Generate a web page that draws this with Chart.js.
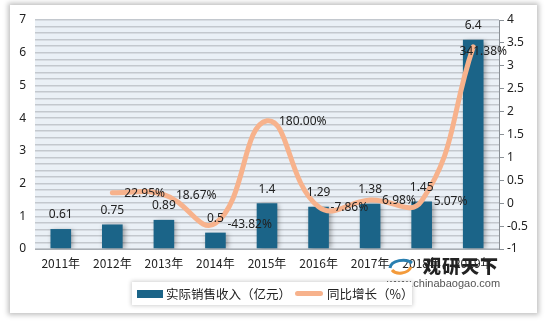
<!DOCTYPE html>
<html><head><meta charset="utf-8">
<script src="https://cdn.jsdelivr.net/npm/chart.js@4/dist/chart.umd.min.js"></script>
<style>
html,body{margin:0;padding:0;background:#fff;}
#wrap{position:relative;width:549px;height:322px;overflow:hidden;font-family:"Noto Sans CJK SC","Noto Sans",sans-serif;}
#frame{position:absolute;left:10px;top:5px;width:527px;height:308px;box-shadow:0 0 5px 2px rgba(0,0,0,0.25);background:#fff;}
canvas{position:absolute;left:0;top:0;}
#legend{position:absolute;left:132px;top:282px;width:280px;height:23px;background:#fff;box-shadow:0 0 4px 1px rgba(0,0,0,0.18);font-size:12.5px;color:#222;}
#legend .it{position:absolute;top:3px;line-height:17px;white-space:nowrap;}
#legend .sw{position:absolute;}
#wm1{position:absolute;left:423px;top:253px;font-size:18px;font-weight:900;color:#222;letter-spacing:1px;white-space:nowrap;line-height:24px;}
#wm2{position:absolute;left:387px;top:277px;font-size:11px;color:#555;font-family:"Liberation Sans",sans-serif;white-space:nowrap;}
#logo{position:absolute;left:388px;top:257px;width:26px;height:18px;}
</style></head>
<body><div id="wrap">
<div id="frame"></div>
<canvas id="c" width="549" height="322"></canvas>
<svg id="logo" viewBox="0 0 26 18"><path d="M2 11 C3 3,18 1,24 6" stroke="#2a7fb0" stroke-width="3" fill="none"/><path d="M4 13 C8 18,20 17,23 10" stroke="#f39a3a" stroke-width="3" fill="none"/></svg>
<div id="wm1">观研天下</div>
<div id="wm2">www.chinabaogao.com</div>
<div id="legend">
 <div class="sw" style="left:5px;top:8px;width:26px;height:8px;background:#1B6488;"></div>
 <div class="it" style="left:34px;">实际销售收入（亿元）</div>
 <div class="sw" style="left:163px;top:9px;width:28px;height:5px;border-radius:3px;background:#F7B28C;"></div>
 <div class="it" style="left:195px;">同比增长（%）</div>
</div>
</div>
<script>
const categories = ["2011年","2012年","2013年","2014年","2015年","2016年","2017年","2018年","2019年"];
const salesRevenue = [0.61,0.75,0.89,0.5,1.4,1.29,1.38,1.45,6.4];
const growthRate = [null,0.2295,0.1867,-0.4382,1.80,-0.0786,0.0698,0.0507,3.4138];
const growthLabels = [null,"22.95%","18.67%","-43.82%","180.00%","-7.86%","6.98%","5.07%","341.38%"];
const salesLabels = ["0.61","0.75","0.89","0.5","1.4","1.29","1.38","1.45","6.4"];

const bgPlugin = {
  id:'bgp',
  beforeDraw(chart){
    const {ctx, chartArea:a} = chart;
    ctx.save();
    ctx.fillStyle = '#EAF0F6';
    ctx.fillRect(a.left, a.top, a.right-a.left, a.bottom-a.top);
    ctx.restore();
  },
  beforeDatasetDraw(chart, args){
    if (args.index === 0){
      chart.ctx.save();
      chart.ctx.shadowColor = 'rgba(0,0,0,0.35)';
      chart.ctx.shadowBlur = 5;
      chart.ctx.shadowOffsetX = 2;
      chart.ctx.shadowOffsetY = 1;
    }
  },
  afterDatasetDraw(chart, args){
    if (args.index === 0) chart.ctx.restore();
  },
  afterDatasetsDraw(chart){
    const ctx = chart.ctx;
    ctx.save();
    ctx.font = '12px "Noto Sans","Liberation Sans",sans-serif';
    ctx.fillStyle = '#222';
    ctx.textBaseline = 'middle';
    const bm = chart.getDatasetMeta(0);
    ctx.textAlign = 'center';
    bm.data.forEach((el,i)=>{
      ctx.fillText(salesLabels[i], el.x, el.y - 14);
    });
    const lm = chart.getDatasetMeta(1);
    lm.data.forEach((el,i)=>{
      if (growthLabels[i]==null) return;
      if (i === categories.length-1){
        ctx.textAlign = 'center';
        ctx.fillText(growthLabels[i], el.x + 10, el.y + 5);
      } else {
        ctx.textAlign = 'left';
        ctx.fillText(growthLabels[i], el.x + 12, el.y + 1);
      }
    });
    ctx.restore();
  }
};

new Chart(document.getElementById('c'), {
  data:{
    labels: categories,
    datasets:[
      {type:'bar', label:'实际销售收入（亿元）', data: salesRevenue, yAxisID:'y',
       backgroundColor:'#1B6488', borderWidth:0,
       barPercentage:0.4, categoryPercentage:1.0, order:2},
      {type:'line', label:'同比增长（%）', data: growthRate, yAxisID:'y1',
       borderColor:'#F7B28C', borderWidth:5, tension:0.45, pointRadius:0,
       borderCapStyle:'round', borderJoinStyle:'round', fill:false, order:1}
    ]
  },
  options:{
    responsive:false, animation:false, events:[],
    layout:{padding:{left:0,right:0,top:20,bottom:43}},
    plugins:{legend:{display:false}, tooltip:{enabled:false}},
    scales:{
      x:{
        grid:{display:false, drawTicks:false},
        border:{display:true,color:'#A8AEB4',width:1},
        ticks:{color:'#222',font:{size:12,family:'"Noto Sans CJK SC","Noto Sans",sans-serif'},padding:7, maxRotation:0, autoSkip:false},
        afterFit(s){s.height=30;}
      },
      y:{
        position:'left', min:0, max:7,
        grid:{color:'#C3C8CE', lineWidth:1.5, drawTicks:false},
        border:{display:false},
        ticks:{stepSize:0.2, autoSkip:false, color:'#222', padding:9,
          font:{size:12,family:'"Noto Sans","Liberation Sans",sans-serif'},
          callback(v){ return Math.abs(v-Math.round(v))<1e-6 ? String(Math.round(v)) : ''; }},
        afterFit(s){s.width=35;}
      },
      y1:{
        position:'right', min:-1, max:4,
        grid:{drawOnChartArea:false, drawTicks:true, tickLength:5, color:'#8A9096'},
        border:{display:true,color:'#8A9096',width:1},
        ticks:{stepSize:0.5, color:'#222', padding:3,
          font:{size:12,family:'"Noto Sans","Liberation Sans",sans-serif'},
          callback(v){ return String(Math.round(v*10)/10); }},
        afterFit(s){s.width=50;}
      }
    }
  },
  plugins:[bgPlugin]
});
</script>
</body></html>
